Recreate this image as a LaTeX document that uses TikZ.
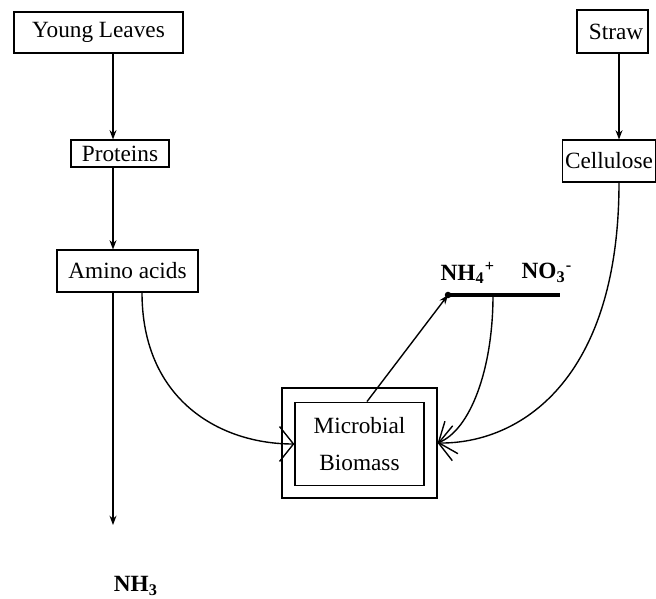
\documentclass[tikz,border=0pt]{standalone}
\usepackage{fontspec}
\setmainfont{Liberation Serif}
\usetikzlibrary{arrows.meta}
\tikzset{
  pool/.style={draw, line width=0.5pt, inner sep=1pt},
  flow/.style={line width=0.6pt, -{Stealth[length=4pt,width=3pt]}},
  uptake/.style={line width=0.6pt, -{Straight Barb[length=6pt,width=15pt,line width=0.6pt]}},
  ion/.style={font=\bfseries, inner sep=1pt}
}

\begin{document}
\begin{tikzpicture}[x=0.43pt,y=-0.43pt]
	%%%%% START %%%%%
	\useasboundingbox (0,0) rectangle (656,599);
	
	\node[pool, minimum width=72.7pt, minimum height=17.6pt] (leaves) at (98.5,32.5) {Young Leaves};
	\node[pool, minimum width=42.1pt, minimum height=11.6pt] (proteins) at (120,153.5) {Proteins};
	\node[pool, minimum width=60.6pt, minimum height=18pt] (amino) at (127.5,271) {Amino acids};
	
	\node[pool, minimum width=30.5pt, minimum height=18.5pt] (straw) at (612.5,31.5) {\hspace{3pt}Straw};
	\node[pool, minimum width=39.6pt, minimum height=18pt] (cellulose) at (609,161) {Cellulose};
	
	\node[pool, minimum width=66.7pt, minimum height=47.3pt] (frame) at (359.5,443) {};
	\node[pool, minimum width=55.5pt, minimum height=36pt, align=center] (biomass) at (359.5,444) {Microbial\\[4pt]Biomass};
	
	\node[ion] (nh4) at (468,273) {NH\textsubscript{4}\textsuperscript{+}};
	\node[ion] (no3) at (547,273) {NO\textsubscript{3}\textsuperscript{-}};
	\node[ion] (nh3) at (136,586) {NH\textsubscript{3}};
	
	\coordinate (spine) at (113,0);
	\coordinate (nh3end) at (113,525);
	\coordinate (barL) at (448,295);
	\coordinate (barR) at (560,295);
	\coordinate (nitrate) at (493,295);
	
	\draw[flow] (leaves.south -| spine) -- (proteins.north -| spine);
	\draw[flow] (proteins.south -| spine) -- (amino.north -| spine);
	\draw[flow] (amino.south -| spine) -- (nh3end);
	\draw[flow] (straw.south -| 619,0) -- (cellulose.north -| 619,0);
	
	\draw[line width=1.3pt] (barL) -- (barR);
	\fill (barL) circle (1.4pt);
	\draw[flow] (biomass.north -| 367,0) -- (barL);
	
	\draw[uptake] (amino.south -| 142,0) .. controls (142,400) and (220,444) .. (biomass.west);
	\draw[uptake] (nitrate) .. controls (493,370) and (470,430) .. (frame.east);
	\draw[uptake] (cellulose.south -| 619,0) .. controls (619,380) and (520,444) .. (frame.east);
	%%%%% END %%%%%
\end{tikzpicture}
\end{document}
